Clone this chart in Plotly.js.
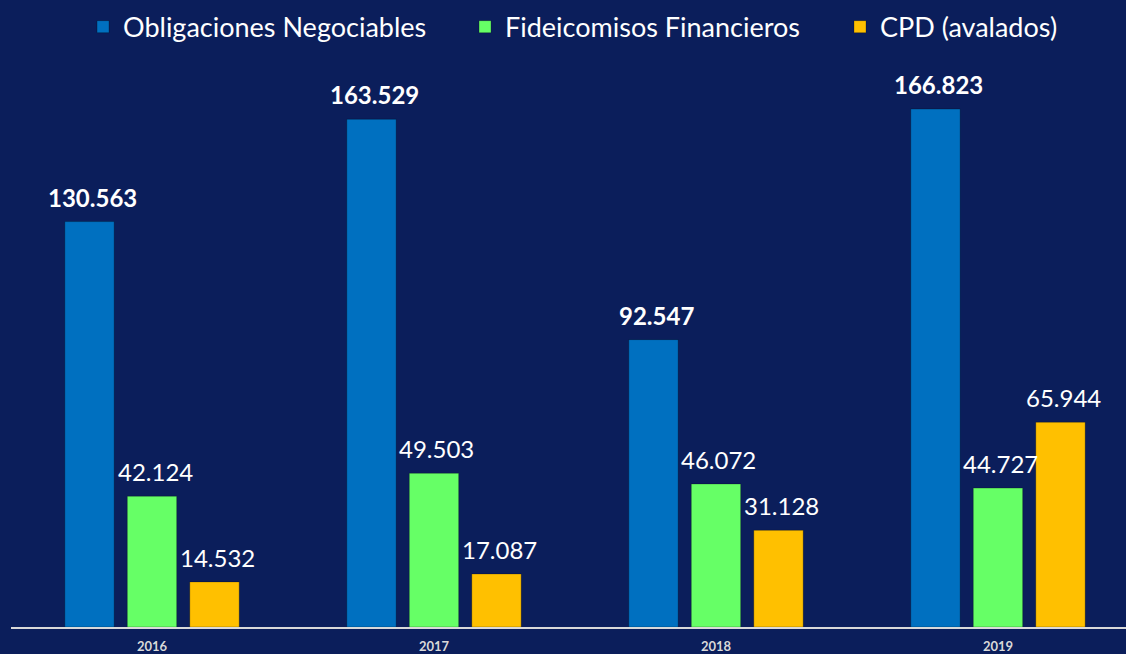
<!DOCTYPE html>
<html>
<head>
<meta charset="utf-8">
<script src="https://cdn.plot.ly/plotly-3.0.1.min.js"></script>
<style>
  html, body { margin: 0; padding: 0; background: #0b1e5b; }
  #chart { width: 1126px; height: 654px; }
</style>
</head>
<body>
<div id="chart"></div>
<script>
// Emisiones por instrumento (valores en miles)
const years  = ['2016', '2017', '2018', '2019'];
const obligaciones = [130563, 163529, 92547, 166823];
const fideicomisos = [42124, 49503, 46072, 44727];
const cpd          = [14532, 17087, 31128, 65944];

const seriesNames  = ['Obligaciones Negociables', 'Fideicomisos Financieros', 'CPD (avalados)'];
const seriesColors = ['#0070c0', '#66ff66', '#ffc000'];
const seriesBold   = [true, false, false];

const FONT = "Lato, 'Open Sans', sans-serif";

const W = 1126, H = 654;
const MARGIN = { t: 60, b: 27, l: 11, r: 0 };
const X_RANGE = [-0.5, 3.454];
const BARGAP = 0.335;

const allSeries = [obligaciones, fideicomisos, cpd];

// 130563 -> "130.563"
const fmt = v => String(v).replace(/\B(?=(\d{3})+(?!\d))/g, '.');

const traces = allSeries.map((values, s) => ({
  type: 'bar',
  name: seriesNames[s],
  legend: s === 0 ? 'legend' : 'legend' + (s + 1),
  x: years,
  y: values,
  marker: { color: seriesColors[s], line: { color: 'rgba(0,0,0,0.25)', width: 1 } },
  hoverinfo: 'skip',
}));

// etiquetas de valor sobre cada barra (desplazadas al centro de su barra)
const pxPerCat = (W - MARGIN.l - MARGIN.r) / (X_RANGE[1] - X_RANGE[0]);
const barPitch = pxPerCat * (1 - BARGAP) / allSeries.length;
const annotations = [];
allSeries.forEach((values, s) => {
  values.forEach((v, i) => {
    annotations.push({
      x: i,
      y: v,
      xref: 'x',
      yref: 'y',
      text: fmt(v),
      showarrow: false,
      xanchor: 'center',
      yanchor: 'bottom',
      xshift: (s - 1) * barPitch + 3,
      yshift: 8,
      font: { family: FONT, size: 24, color: '#ffffff', weight: seriesBold[s] ? 700 : 400 },
    });
  });
});

// una leyenda por serie para ubicarlas como en la lámina
const legendBase = {
  orientation: 'h',
  xanchor: 'left',
  y: 1.058,
  yanchor: 'middle',
  font: { family: FONT, size: 27, color: '#ffffff' },
  bgcolor: 'rgba(0,0,0,0)',
};

const layout = {
  width: W,
  height: H,
  paper_bgcolor: '#0b1e5b',
  plot_bgcolor: '#0b1e5b',
  font: { family: FONT, color: '#ffffff' },
  margin: { ...MARGIN, autoexpand: false },
  barmode: 'group',
  bargap: BARGAP,
  bargroupgap: 0.21,
  xaxis: {
    type: 'category',
    range: X_RANGE,
    showline: true,
    linecolor: '#d9d9d9',
    linewidth: 1.5,
    showgrid: false,
    zeroline: false,
    ticks: '',
    ticklabelstandoff: 7,
    tickfont: { family: FONT, size: 13, color: '#d9d9d9', weight: 'bold' },
    fixedrange: true,
  },
  yaxis: {
    range: [0, 182600],
    visible: false,
    fixedrange: true,
  },
  annotations,
  showlegend: true,
  legend:  { ...legendBase, x: 0.0646 },
  legend2: { ...legendBase, x: 0.4072 },
  legend3: { ...legendBase, x: 0.7435 },
};

Plotly.newPlot('chart', traces, layout, { displayModeBar: false, staticPlot: true });
</script>
</body>
</html>
